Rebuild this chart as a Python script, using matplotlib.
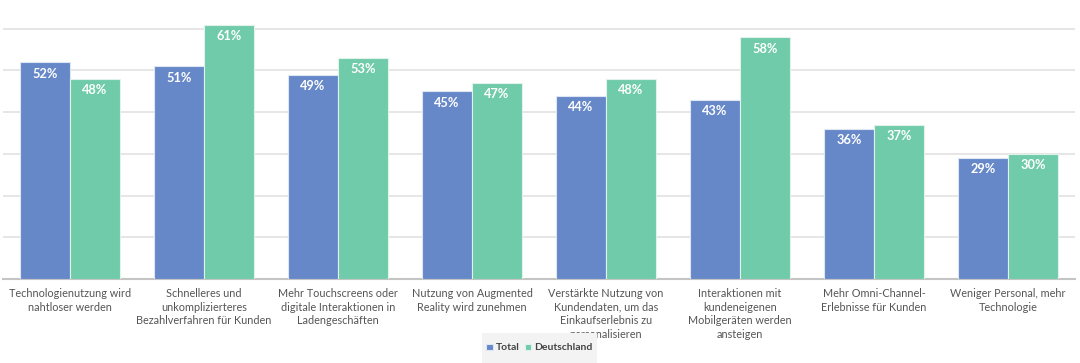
import numpy as np
from matplotlib import pyplot as plt
from matplotlib.patches import Rectangle

categories = [
    'Technologienutzung wird\nnahtloser werden',
    'Schnelleres und\nunkomplizierteres\nBezahlverfahren für Kunden',
    'Mehr Touchscreens oder\ndigitale Interaktionen in\nLadengeschäften',
    'Nutzung von Augmented\nReality wird zunehmen',
    'Verstärkte Nutzung von\nKundendaten, um das\nEinkaufserlebnis zu\npersonalisieren',
    'Interaktionen mit\nkundeneigenen\nMobilgeräten werden\nansteigen',
    'Mehr Omni-Channel-\nErlebnisse für Kunden',
    'Weniger Personal, mehr\nTechnologie',
]
total = [52, 51, 49, 45, 44, 43, 36, 29]
deutschland = [48, 61, 53, 47, 48, 58, 37, 30]

blue = '#6788c8'
green = '#70cbab'

plt.rcParams['font.family'] = ['Lato', 'DejaVu Sans']

fig = plt.figure(figsize=(10.8, 3.63), dpi=100)
ax = fig.add_axes([3 / 1080, 1 - 279 / 363, 1072 / 1080, 279 / 363])

x = np.arange(len(categories))
w = 0.373
b1 = ax.bar(x - w / 2, total, w, color=blue, edgecolor='#dfe6f3', lw=0.8,
            label='Total', zorder=3)
b2 = ax.bar(x + w / 2, deutschland, w, color=green, edgecolor='#dff3ea', lw=0.8,
            label='Deutschland', zorder=3)

for bars, vals in ((b1, total), (b2, deutschland)):
    for r, v in zip(bars, vals):
        ax.text(r.get_x() + r.get_width() / 2, v - 1.3, f'{v}%', ha='center',
                va='top', color='white', fontsize=9.2, fontweight='bold', zorder=4)

ax.set_xlim(-0.5, len(categories) - 0.5)
ax.set_ylim(0, 66.9)
ax.set_yticks(range(10, 61, 10))
ax.yaxis.grid(True, color='#e2e2e2', lw=1.2, zorder=0)
ax.tick_params(left=False, labelleft=False, bottom=False)
ax.set_xticks(x)
ax.set_xticklabels(categories, fontsize=7.8, color='#555555', linespacing=1.3)
ax.tick_params(axis='x', pad=3)
for s in ['top', 'right', 'left']:
    ax.spines[s].set_visible(False)
ax.spines['bottom'].set_color('#c4c4c4')
ax.spines['bottom'].set_linewidth(1.5)

# legend background box
fig.add_artist(Rectangle((482 / 1080, 0), 115 / 1080, 30 / 363,
                         transform=fig.transFigure, facecolor='#f3f3f3',
                         edgecolor='none', zorder=9))
leg = fig.legend(loc='center', bbox_to_anchor=(539.5 / 1080, 1 - 348 / 363), ncol=2,
                 frameon=False, fontsize=7.5,
                 handlelength=0.6, handleheight=0.6, handletextpad=0.3,
                 columnspacing=0.5, borderpad=0)
for t in leg.get_texts():
    t.set_color('#444444')
    t.set_fontweight('bold')
leg.set_zorder(10)

fig.savefig('out.png', dpi=100)
